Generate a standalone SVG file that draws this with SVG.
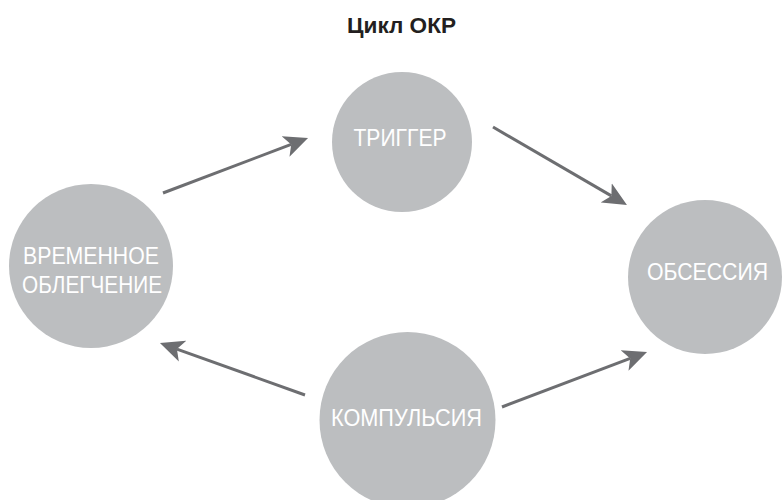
<svg xmlns="http://www.w3.org/2000/svg" width="783" height="500" viewBox="0 0 783 500">
<style>
.node{fill:#bcbec0;}
.lbl{font-family:"Liberation Sans","DejaVu Sans",sans-serif;font-size:24px;fill:#ffffff;text-anchor:middle;}
.title{font-family:"Liberation Sans","DejaVu Sans",sans-serif;font-size:22px;font-weight:bold;fill:#231f20;text-anchor:middle;}
.conn{stroke:#6d6e71;stroke-width:3;fill:none;marker-end:url(#ah);}
</style>
<defs>
<marker id="ah" viewBox="0 0 24 24" refX="6" refY="12" markerWidth="24" markerHeight="24" markerUnits="userSpaceOnUse" orient="auto">
<path d="M0,1 L24,12 L0,23 L6,12 z" fill="#6d6e71"/>
</marker>
</defs>
<rect width="783" height="500" fill="#ffffff"/>
<text class="title" x="401.5" y="33" textLength="109" lengthAdjust="spacingAndGlyphs">Цикл ОКР</text>
<g id="connectors">
<line class="conn" x1="163" y1="193" x2="291.2" y2="144.4"/>
<line class="conn" x1="493" y1="127" x2="611.4" y2="195.9"/>
<line class="conn" x1="305" y1="395" x2="176.9" y2="349.1"/>
<line class="conn" x1="502" y1="407" x2="630.2" y2="358.4"/>
</g>
<g id="trigger">
<circle class="node" cx="402" cy="142" r="70"/>
<text class="lbl" x="400" y="146" textLength="93" lengthAdjust="spacingAndGlyphs">ТРИГГЕР</text>
</g>
<g id="obsession">
<circle class="node" cx="705" cy="277" r="77"/>
<text class="lbl" x="707.5" y="280" textLength="121" lengthAdjust="spacingAndGlyphs">ОБСЕССИЯ</text>
</g>
<g id="compulsion">
<circle class="node" cx="407.5" cy="420" r="88"/>
<text class="lbl" x="406.5" y="426" textLength="151" lengthAdjust="spacingAndGlyphs">КОМПУЛЬСИЯ</text>
</g>
<g id="relief">
<circle class="node" cx="91" cy="266" r="82"/>
<text class="lbl" x="91" y="264" textLength="136" lengthAdjust="spacingAndGlyphs">ВРЕМЕННОЕ</text>
<text class="lbl" x="92" y="293" textLength="140" lengthAdjust="spacingAndGlyphs">ОБЛЕГЧЕНИЕ</text>
</g>
</svg>
